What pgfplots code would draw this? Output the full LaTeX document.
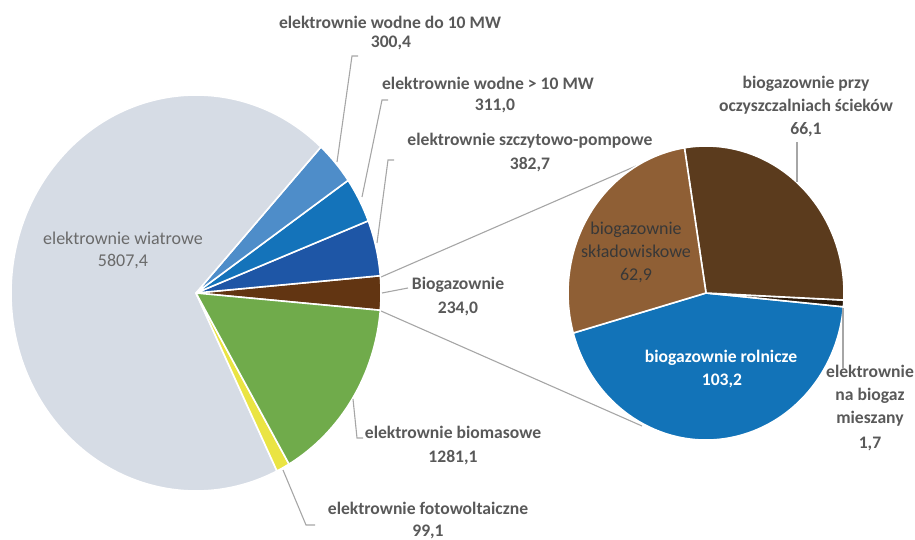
\documentclass[border=0pt]{standalone}
\usepackage{pgfplots}
\pgfplotsset{compat=1.18}
\usepackage{pgfplotstable}
\usepackage{fontspec}
\setmainfont{Carlito}

% left pie colours (counter-clockwise order starting at -5 deg)
\definecolor{L0}{HTML}{623512} % biogazownie
\definecolor{L1}{HTML}{1E56A6} % szczytowo-pompowe
\definecolor{L2}{HTML}{1473BA} % wodne > 10 MW
\definecolor{L3}{HTML}{4E8DC9} % wodne do 10 MW
\definecolor{L4}{HTML}{D6DCE5} % wiatrowe
\definecolor{L5}{HTML}{EAE443} % fotowoltaiczne
\definecolor{L6}{HTML}{70AB4B} % biomasowe
% right pie colours
\definecolor{R0}{HTML}{1273B8} % rolnicze
\definecolor{R1}{HTML}{2B1A0A} % mieszany
\definecolor{R2}{HTML}{5B3B1D} % oczyszczalnie
\definecolor{R3}{HTML}{8F5F35} % skladowiskowe
\definecolor{cText}{HTML}{595959}
\definecolor{cLine}{HTML}{A6A6A6}

\pgfplotstableread{
name value
Biogazownie 234.0
SzczytowoPompowe 382.7
WodnePonad10MW 311.0
WodneDo10MW 300.4
Wiatrowe 5807.4
Fotowoltaiczne 99.1
Biomasowe 1281.1
}\lefttab

\pgfplotstableread{
name value
Rolnicze 103.2
Mieszany 1.7
Oczyszczalnie 66.1
Skladowiskowe 62.9
}\righttab

\newcommand\preparepie[3]{% #1 table, #2 prefix, #3 start angle
  \pgfplotstablegetrowsof{#1}%
  \pgfmathtruncatemacro\pienrows{\pgfplotsretval-1}%
  \gdef\pietot{0}%
  \foreach \i in {0,...,\pienrows}{%
    \pgfplotstablegetelem{\i}{value}\of{#1}%
    \pgfmathsetmacro\tmp{\pietot+\pgfplotsretval}%
    \xdef\pietot{\tmp}}%
  \xdef\piecur{#3}%
  \foreach \i in {0,...,\pienrows}{%
    \pgfplotstablegetelem{\i}{value}\of{#1}%
    \pgfmathsetmacro\frac{\pgfplotsretval/\pietot}%
    \pgfmathsetmacro\tmp{\piecur+360*\frac}%
    \expandafter\xdef\csname #2s\i\endcsname{\piecur}%
    \expandafter\xdef\csname #2e\i\endcsname{\tmp}%
    \xdef\piecur{\tmp}}%
}
\preparepie{\lefttab}{L}{-5.0}
\preparepie{\righttab}{R}{195.8}

\tikzset{
  lab/.style={anchor=base, text=cText, inner sep=0pt, font=\fontsize{17.6}{20}\selectfont\bfseries},
  labn/.style={anchor=base, inner sep=0pt, font=\fontsize{18}{20}\selectfont},
  lead/.style={draw=cLine, line width=1.1pt}
}

\begin{document}
\begin{tikzpicture}
\begin{axis}[
  x=1pt, y=1pt, xmin=0, xmax=915, ymin=0, ymax=540,
  y dir=reverse, hide axis, clip=false, scale only axis,
  at={(0,0)}, anchor=south west,
]
% connector lines between pies
\draw[lead] (axis cs:381,277) -- (axis cs:636,166);
\draw[lead] (axis cs:381,311) -- (axis cs:642,426);
% left pie
\pgfplotsinvokeforeach{0,...,6}{%
  \fill[fill=L#1, draw=white, line width=1.6pt, line join=round]
    (axis cs:196,293) -- (axis cs:{196+185*cos(\csname Ls#1\endcsname)},{293-198*sin(\csname Ls#1\endcsname)})
    arc[start angle=\csname Ls#1\endcsname, end angle=\csname Le#1\endcsname, x radius=185pt, y radius=198pt] -- cycle;
}
% right pie
\pgfplotsinvokeforeach{0,...,3}{%
  \fill[fill=R#1, draw=white, line width=1.6pt, line join=round]
    (axis cs:706,293) -- (axis cs:{706+138*cos(\csname Rs#1\endcsname)},{293-147*sin(\csname Rs#1\endcsname)})
    arc[start angle=\csname Rs#1\endcsname, end angle=\csname Re#1\endcsname, x radius=138pt, y radius=147pt] -- cycle;
}
% leader lines
\draw[lead] (axis cs:337,162) -- (axis cs:352,56) -- (axis cs:358,56);
\draw[lead] (axis cs:362,197) -- (axis cs:382,100) -- (axis cs:388,100);
\draw[lead] (axis cs:377,243) -- (axis cs:388,160) -- (axis cs:394,160);
\draw[lead] (axis cs:382,293) -- (axis cs:408,288);
\draw[lead] (axis cs:353,399) -- (axis cs:357,438) -- (axis cs:363,438);
\draw[lead] (axis cs:283,470) -- (axis cs:306,525) -- (axis cs:315,525);
\draw[lead] (axis cs:797,142) -- (axis cs:797,182);
\draw[lead] (axis cs:843,308) -- (axis cs:843,368);
% labels left pie
\node[lab] at (axis cs:390,29) {elektrownie wodne do 10 MW};
\node[lab] at (axis cs:391,48) {300,4};
\node[lab] at (axis cs:488,90) {elektrownie wodne > 10 MW};
\node[lab] at (axis cs:495,111) {311,0};
\node[lab] at (axis cs:530,146) {elektrownie szczytowo-pompowe};
\node[lab] at (axis cs:530,170) {382,7};
\node[lab] at (axis cs:458,289) {Biogazownie};
\node[lab] at (axis cs:458,313) {234,0};
\node[lab] at (axis cs:453,438) {elektrownie biomasowe};
\node[lab] at (axis cs:453,462) {1281,1};
\node[lab] at (axis cs:428,514) {elektrownie fotowoltaiczne};
\node[lab] at (axis cs:428,536) {99,1};
\node[labn, text=cText!90] at (axis cs:123,244) {elektrownie wiatrowe};
\node[labn, text=cText!90] at (axis cs:123,266) {5807,4};
% labels right pie
\node[lab] at (axis cs:806,89) {biogazownie przy};
\node[lab] at (axis cs:806,112) {oczyszczalniach ścieków};
\node[lab] at (axis cs:806,135) {66,1};
\node[labn, text=black!78] at (axis cs:636,234) {biogazownie};
\node[labn, text=black!78] at (axis cs:636,257) {składowiskowe};
\node[labn, text=black!78] at (axis cs:636,280) {62,9};
\node[lab, text=white] at (axis cs:721,362) {biogazownie rolnicze};
\node[lab, text=white] at (axis cs:722,385) {103,2};
\node[lab] at (axis cs:870,377) {elektrownie};
\node[lab] at (axis cs:870,400) {na biogaz};
\node[lab] at (axis cs:870,423) {mieszany};
\node[lab] at (axis cs:870,448) {1,7};
\end{axis}
\pgfresetboundingbox
\path[use as bounding box] (0,0) rectangle (915pt,540pt);
\end{tikzpicture}
\end{document}
